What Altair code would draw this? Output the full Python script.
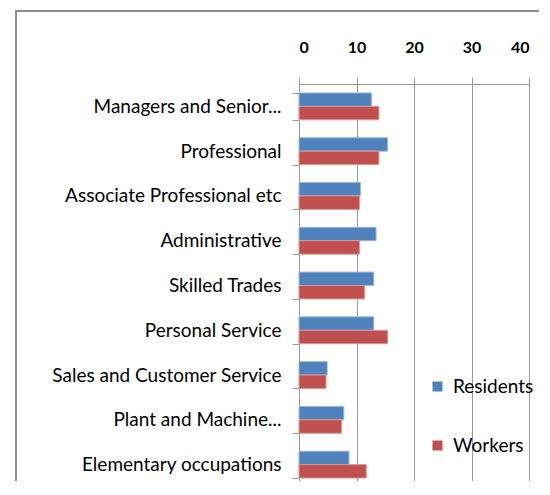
import altair as alt
import pandas as pd

categories = [
    "Managers and Senior...",
    "Professional",
    "Associate Professional etc",
    "Administrative",
    "Skilled Trades",
    "Personal Service",
    "Sales and Customer Service",
    "Plant and Machine...",
    "Elementary occupations",
]
residents = [12.6, 15.4, 10.7, 13.4, 13.0, 13.0, 4.9, 7.8, 8.7]
workers = [13.9, 13.9, 10.5, 10.5, 11.4, 15.4, 4.7, 7.4, 11.7]
series = ["Residents", "Workers"]
colors = ["#4F81BD", "#C0504D"]
edges = ["#9DB7DA", "#D99694"]
x_ticks = [0, 10, 20, 30, 40]

rows = []
for c, r, w in zip(categories, residents, workers):
    rows.append({"cat": c, "series": "Residents", "value": r})
    rows.append({"cat": c, "series": "Workers", "value": w})
df = pd.DataFrame(rows)

GRAY = "#9a9a9a"

bars = alt.Chart(df).mark_bar(strokeWidth=1).encode(
    y=alt.Y(
        "cat:N",
        sort=categories,
        scale=alt.Scale(paddingInner=0.4, paddingOuter=0.2),
        axis=alt.Axis(
            title=None,
            orient="left",
            labelFont="Lato",
            labelFontSize=19,
            labelColor="#000000",
            labelPadding=11,
            labelLimit=400,
            tickSize=7,
            tickColor=GRAY,
            tickBand="extent",
            domainColor=GRAY,
            grid=False,
        ),
    ),
    yOffset=alt.YOffset("series:N", sort=series),
    x=alt.X(
        "value:Q",
        scale=alt.Scale(domain=[0, 40], nice=False),
        axis=alt.Axis(
            title=None,
            orient="top",
            values=x_ticks,
            labelFont="Lato",
            labelFontWeight="bold",
            labelFontSize=16,
            labelColor="#000000",
            labelPadding=22,
            tickSize=7,
            tickColor=GRAY,
            domainColor=GRAY,
            grid=True,
            gridColor=GRAY,
        ),
    ),
    color=alt.Color(
        "series:N",
        sort=series,
        scale=alt.Scale(domain=series, range=colors),
        legend=alt.Legend(
            title=None,
            orient="none",
            legendX=129,
            legendY=293,
            padding=0,
            symbolType="square",
            symbolSize=100,
            symbolStrokeWidth=0,
            labelFont="Lato",
            labelFontSize=19,
            labelColor="#000000",
            labelOffset=6,
            rowPadding=39,
        ),
    ),
    stroke=alt.Stroke(
        "series:N",
        sort=series,
        scale=alt.Scale(domain=series, range=edges),
        legend=None,
    ),
)

frame = alt.Chart(pd.DataFrame({"k": [0]})).mark_rect(
    fill=None, stroke="#8c8c8c", strokeWidth=2
).encode(
    x=alt.value(-283),
    x2=alt.value(300),
    y=alt.value(-73),
    y2=alt.value(460),
)

chart = (
    alt.layer(frame, bars)
    .properties(
        width=230,
        height=403,
        autosize=alt.AutoSizeParams(type="none"),
        padding={"left": 291, "top": 76, "right": 10, "bottom": -6},
    )
    .configure_view(stroke=None)
    .configure(background="white")
)

chart.save("out.html", embed_options={"renderer": "svg", "actions": False})
